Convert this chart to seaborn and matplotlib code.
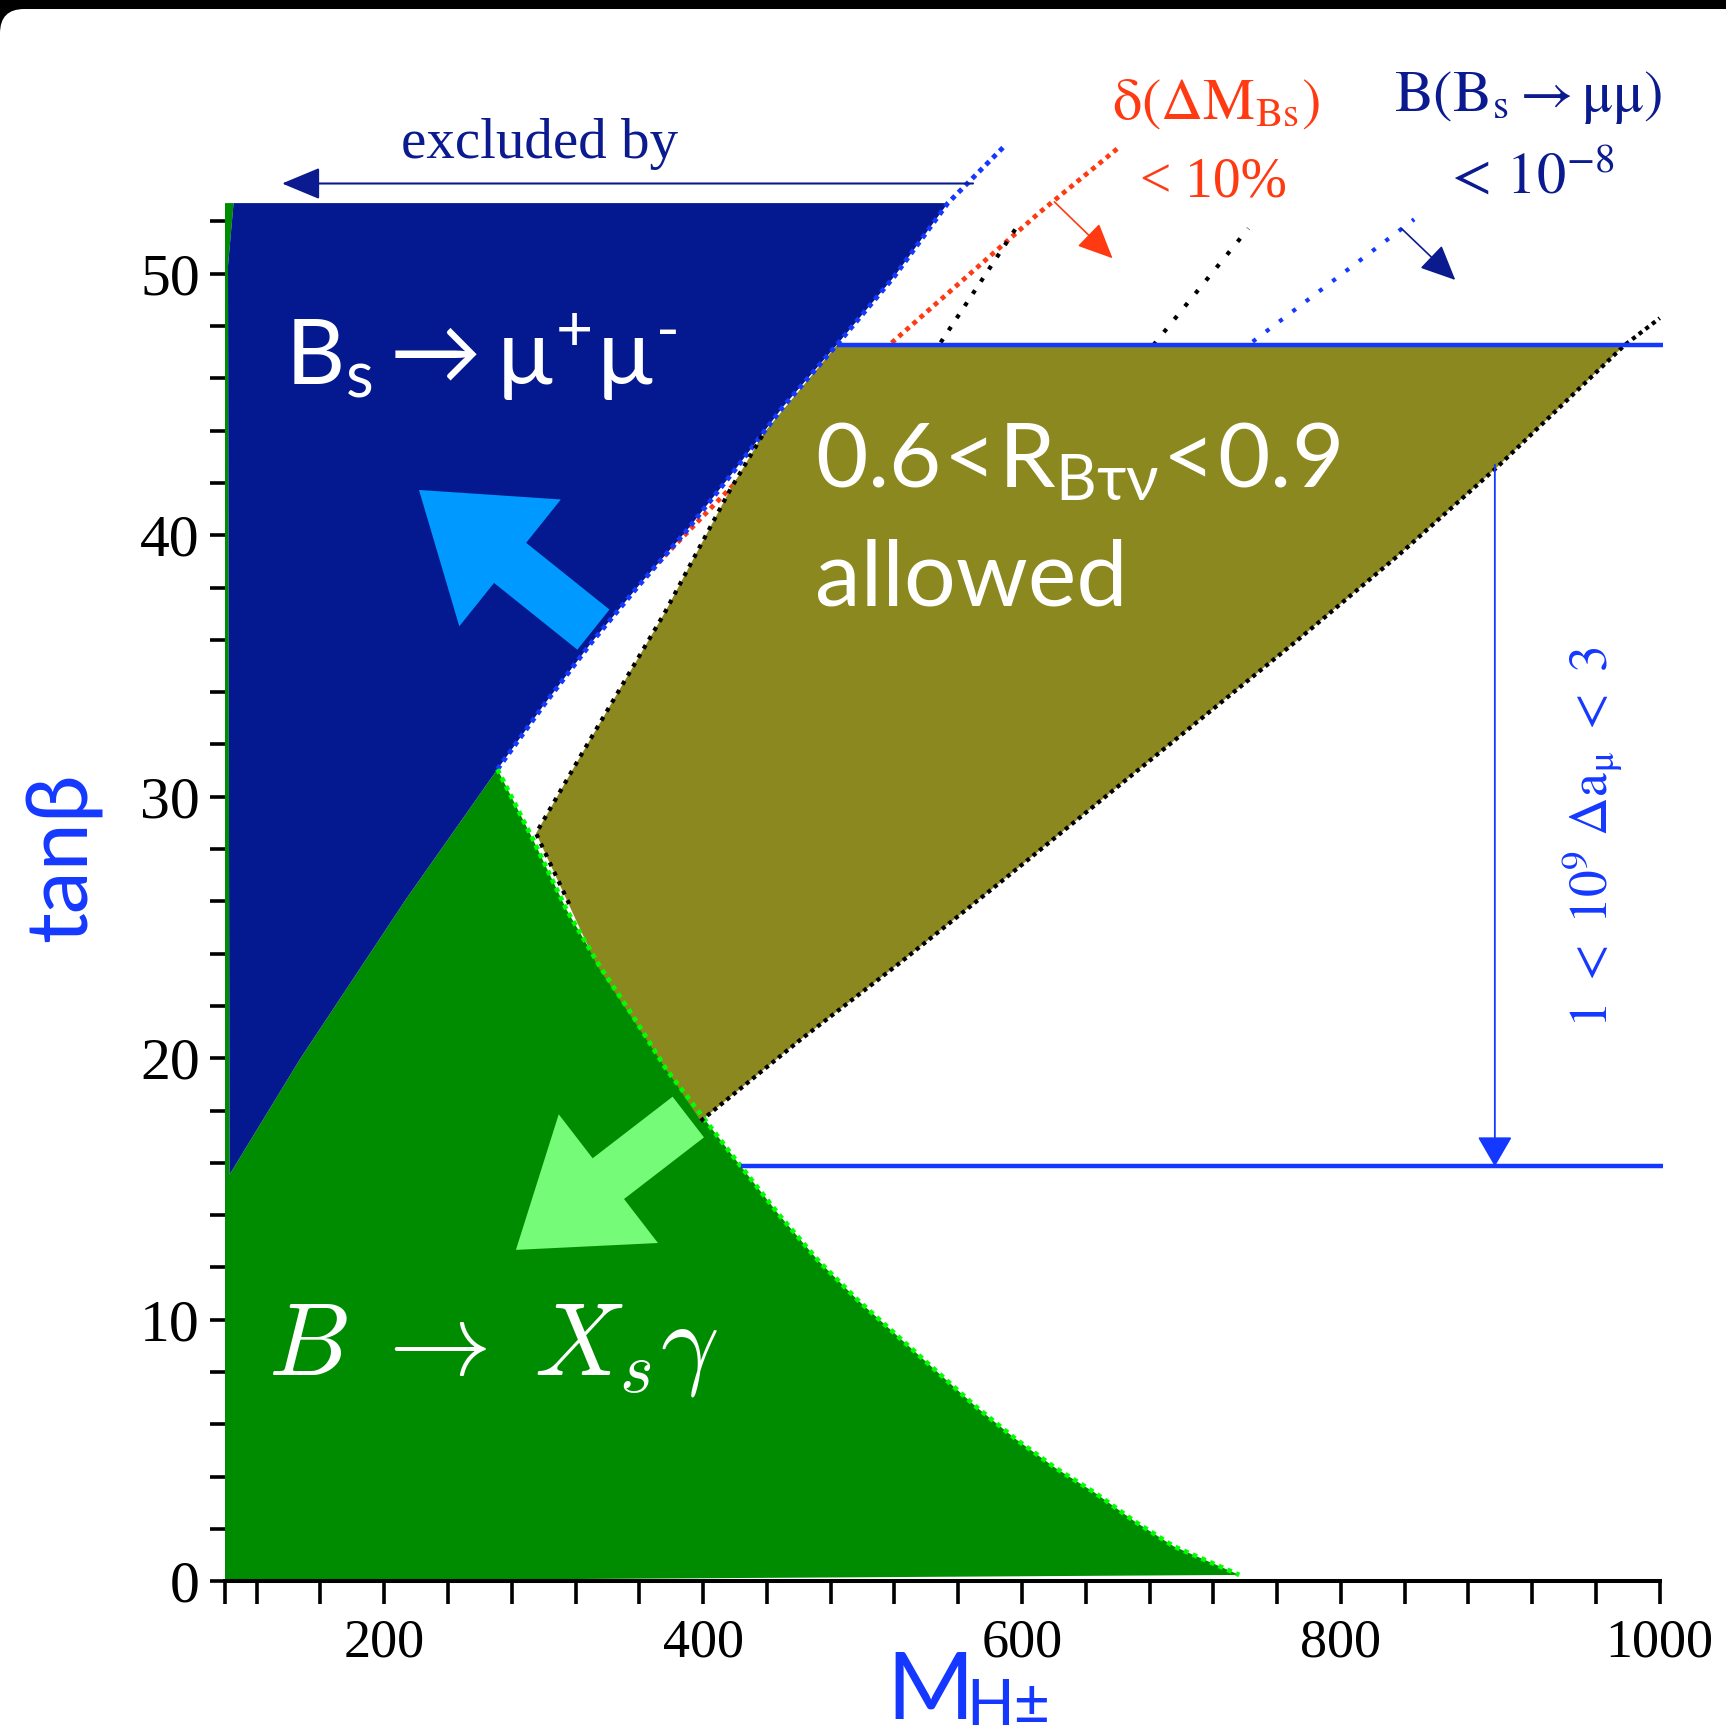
import matplotlib
matplotlib.use("Agg")
import matplotlib.pyplot as plt
from matplotlib.patches import FancyArrowPatch, FancyBboxPatch
import seaborn as sns

# ---------------- data: (M_H+-, tan beta) ----------------
TB_MAX = 52.7

# upper edge of the region excluded by B_s -> mu mu
bsmumu_edge_m = [271, 300, 330, 360, 390, 420, 450, 484, 520, 553.5]
bsmumu_edge_tb = [31.05, 33.5, 35.9, 38.1, 40.2, 42.5, 44.9, 47.29, 49.9, 52.7]
# border between the B_s -> mu mu and B -> X_s gamma regions
bsmumu_low_m = [271, 213.3, 147.2, 103.0]
bsmumu_low_tb = [31.05, 26.05, 19.97, 15.55]
# left rim of the B_s -> mu mu region
bsmumu_rim_m = [103.0, 102.0, 105.5]
bsmumu_rim_tb = [15.55, 50.3, 52.7]

# upper edge of the region excluded by B -> X_s gamma
bsg_edge_m = [271, 293.5, 314.4, 335.3, 356.2, 377.2, 398.1, 419, 447.4, 472.2,
              497, 521.7, 546.6, 571.4, 596.2, 621, 645.8, 670.6, 695.3, 736.3]
bsg_edge_tb = [31.05, 28.34, 25.67, 23.5, 21.59, 19.55, 17.89, 16.23, 14.03, 12.26,
               10.75, 9.39, 8.02, 6.66, 5.43, 4.33, 3.38, 2.29, 1.33, 0.24]

# 0.6 < R_Btaunu < 0.9 allowed band
rbtn_m = [295.2, 333.3, 398.5, 460.9, 523.5, 585.9, 648.3, 710.7, 773.1, 835.5,
          898, 978, 484, 438, 416.9, 375.7, 324.1]
rbtn_tb = [28.6, 23.56, 17.6, 20.7, 23.65, 26.7, 29.8, 32.9, 36.0, 39.2,
           42.6, 47.27, 47.27, 43.9, 41.73, 37.01, 31.66]

# contour lines
bsmumu_line_m = [271, 300, 330, 360, 390, 420, 450, 484, 520, 553.5, 588.2]
bsmumu_line_tb = [31.05, 33.5, 35.9, 38.1, 40.2, 42.5, 44.9, 47.29, 49.9, 52.7, 54.83]
dms_line_m = [351, 418, 517, 611, 661]
dms_line_tb = [37.65, 41.86, 47.29, 52.34, 54.84]
rbtn_low_m = [316, 295.2, 324.1, 375.7, 416.9, 438]
rbtn_low_tb = [25.9, 28.6, 31.66, 37.01, 41.73, 43.9]
rbtn_upper_m = [398.5, 460.9, 523.5, 585.9, 648.3, 710.7, 773.1, 835.5, 898, 978, 1000]
rbtn_upper_tb = [17.6, 20.7, 23.65, 26.7, 29.8, 32.9, 36.0, 39.2, 42.6, 47.27, 48.3]
black_a_m = [549, 598.3]
black_a_tb = [47.37, 51.93]
black_b_m = [682.4, 742]
black_b_tb = [47.27, 51.73]
bs8_line_m = [744.7, 846]
bs8_line_tb = [47.4, 52.08]

# 1 < 10^9 Delta a_mu < 3 band
amu_tb = [15.86, 47.27]
amu_m_start = [423.6, 484]

# ---------------- style ----------------
NAVY = "#04198f"
GREEN = "#008c00"
OLIVE = "#8b881f"
LBLUE = "#0099ff"
LGREEN = "#75fb78"
BGREEN = "#00ff00"
BLUE = "#1438ff"
RED = "#ff3a12"
NAVY_TXT = "#0b1b8f"

sns.set_theme(style="white")
plt.rcParams["font.family"] = ["Liberation Serif", "DejaVu Serif"]
plt.rcParams["mathtext.fontset"] = "custom"
plt.rcParams["mathtext.rm"] = "Lato"
plt.rcParams["mathtext.it"] = "Lato:italic"
plt.rcParams["mathtext.bf"] = "Lato:bold"
plt.rcParams["mathtext.sf"] = "Lato"
plt.rcParams["mathtext.fallback"] = "stixsans"

fig = plt.figure(figsize=(17.26, 17.34), dpi=100)
fig.patch.set_facecolor("black")
fig.add_artist(FancyBboxPatch((0, -0.05), 1.2, 0.9948 + 0.05,
                              boxstyle="round,pad=0,rounding_size=0.014",
                              transform=fig.transFigure, facecolor="white",
                              edgecolor="none", zorder=-10))
ax = fig.add_axes([0.13025, 0.08812, 0.83134, 0.79475])
ax.set_facecolor("white")


def contour(m, tb, color, lw, dash, z):
    sns.lineplot(x=m, y=tb, ax=ax, sort=False, estimator=None, color=color,
                 linewidth=lw, linestyle=(0, dash), dash_capstyle="butt",
                 clip_on=False, zorder=z)


# red contour runs under the filled regions
contour(dms_line_m, dms_line_tb, RED, 3.4, (1, 1), 1.5)

# filled regions
blue_m = bsmumu_edge_m[::-1] + bsmumu_low_m[1:] + bsmumu_rim_m[1:]
blue_tb = bsmumu_edge_tb[::-1] + bsmumu_low_tb[1:] + bsmumu_rim_tb[1:]
green_m = [100, 100] + bsmumu_rim_m[::-1] + bsmumu_low_m[::-1][1:] + bsg_edge_m[1:]
green_tb = [0, TB_MAX] + bsmumu_rim_tb[::-1] + bsmumu_low_tb[::-1][1:] + bsg_edge_tb[1:]
ax.fill(green_m, green_tb, color=GREEN, lw=0, zorder=2)
ax.fill(blue_m, blue_tb, color=NAVY, lw=0, zorder=2.1)
ax.fill(rbtn_m, rbtn_tb, color=OLIVE, lw=0, zorder=2.2)

# dotted contour lines
contour(bsmumu_line_m, bsmumu_line_tb, BLUE, 3.5, (1, 1), 3)
contour(bsg_edge_m, bsg_edge_tb, BGREEN, 3.4, (1, 1), 3)
contour(rbtn_low_m, rbtn_low_tb, "black", 3.0, (1, 1.5), 3)
contour(rbtn_upper_m, rbtn_upper_tb, "black", 3.0, (1, 1), 3)
contour(black_a_m, black_a_tb, "black", 3.0, (1, 2.5), 3)
contour(black_b_m, black_b_tb, "black", 3.0, (1, 3), 3)
contour(bs8_line_m, bs8_line_tb, BLUE, 3.0, (1, 3), 3)

# g-2 band limits
for m0, tb in zip(amu_m_start, amu_tb):
    ax.plot([m0, 1002], [tb, tb], color=BLUE, lw=3.2, zorder=3.5,
            solid_capstyle="butt", clip_on=False)


def arrow(tail, tip, style, color, lw=0.0):
    ax.add_patch(FancyArrowPatch(tail, tip, arrowstyle=style, mutation_scale=1,
                                 shrinkA=0, shrinkB=0, color=color, lw=lw,
                                 clip_on=False, zorder=5))


big = "simple,head_length=84,head_width=117,tail_width=37"
arrow((331.2, 36.39), (221.8, 41.73), big, LBLUE)
arrow((390.7, 17.75), (282.6, 12.67), big, LGREEN)
arrow((569.3, 53.45), (135.9, 53.45), "-|>,head_length=24,head_width=10", NAVY_TXT, 1.5)
arrow((620.3, 52.75), (656.8, 50.59), "-|>,head_length=22,head_width=10", RED, 1.2)
arrow((838.0, 51.73), (871.8, 49.76), "-|>,head_length=22,head_width=10", NAVY_TXT, 1.2)
arrow((896.6, amu_tb[1] - 4.57), (896.6, amu_tb[0]), "-|>,head_length=19,head_width=11", BLUE, 1.3)

# labels inside the plot
ax.text(137.9, 45.75, r"$\mathrm{B_s \rightarrow µ^{+}µ^{\text{-}}}$", color="white",
        fontsize=66, ha="left", va="baseline", zorder=6)
ax.text(470.1, 41.86, r"$\mathrm{0.6\!<\!R_{Bτν}\!<\!0.9}$", color="white",
        fontsize=65, ha="left", va="baseline", zorder=6)
ax.text(470.1, 37.30, "allowed", family=["Lato", "DejaVu Sans"], color="white",
        fontsize=66, ha="left", va="baseline", zorder=6)
ax.text(127.0, 7.91, r"$B\;\rightarrow\;X_s\gamma$", math_fontfamily="cm",
        color="white", fontsize=74, ha="left", va="baseline", zorder=6)
ax.text(297.4, 54.42, "excluded by", color=NAVY_TXT, fontsize=41,
        ha="center", va="baseline", clip_on=False, zorder=6)
ax.text(721.9, 55.94, r"$\mathrm{\delta(\Delta M_{Bs})}$", math_fontfamily="stix",
        color=RED, fontsize=42, ha="center", va="baseline", zorder=6)
ax.text(720.1, 52.94, "< 10%", color=RED, fontsize=40,
        ha="center", va="baseline", zorder=6)
ax.text(917.1, 56.24, r"$\mathrm{B(B_s \rightarrow \mu\mu)}$", math_fontfamily="stix",
        color=NAVY_TXT, fontsize=42, ha="center", va="baseline", zorder=6)
ax.text(917.8, 53.07, r"$<\,10^{-8}$", math_fontfamily="stix",
        color=NAVY_TXT, fontsize=42, ha="center", va="baseline", zorder=6)
ax.text(957.7, 28.44, r"$\mathrm{1\ <\ 10^{9}\ \Delta a_{\mu}\ <\ 3}$",
        math_fontfamily="stix", color=BLUE, fontsize=38.5, rotation=90,
        ha="center", va="center", zorder=6)

# axes
ax.set_xlim(100, 1000)
ax.set_ylim(0, TB_MAX)
ax.set_xticks([200, 400, 600, 800, 1000])
ax.set_xticks([100, 120] + list(range(160, 1001, 40)), minor=True)
ax.set_yticks(list(range(0, 51, 10)))
ax.set_yticks(list(range(0, 53, 2)), minor=True)
ax.set_xlabel("")
ax.set_ylabel("")
for side in ["top", "right", "left"]:
    ax.spines[side].set_visible(False)
ax.spines["bottom"].set_color("black")
ax.spines["bottom"].set_linewidth(2.9)
ax.tick_params(axis="x", which="both", length=16.5, width=2.6, direction="out",
               color="black", pad=10, labelsize=39, labelcolor="black",
               bottom=True)
ax.tick_params(axis="y", which="both", length=11, width=2.6, direction="out",
               color="black", pad=7, labelsize=43, labelcolor="black", left=True)

# axis titles
fig.text(0.0365, 0.5058, "tanβ", family=["Lato", "DejaVu Sans"], color=BLUE,
         fontsize=62, rotation=90, ha="center", va="center")
fig.text(0.5134, 0.0085, "M", family=["Lato", "DejaVu Sans"], color=BLUE,
         fontsize=68, ha="left", va="baseline")
fig.text(0.5599, 0.0050, "H±", family=["Lato", "DejaVu Sans"], color=BLUE,
         fontsize=45, ha="left", va="baseline")

fig.savefig("out.png", dpi=100, facecolor=fig.get_facecolor())
